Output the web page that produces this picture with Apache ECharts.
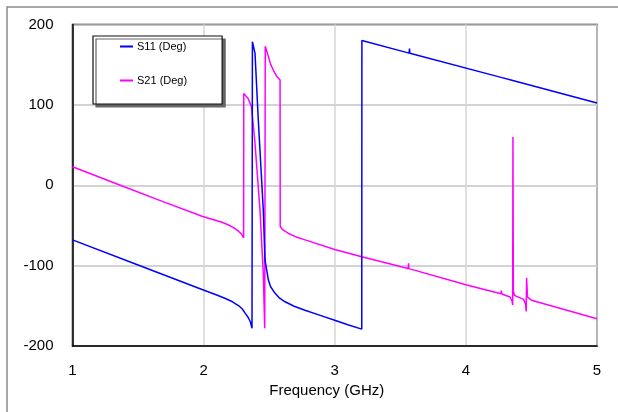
<!DOCTYPE html>
<html>
<head>
<meta charset="utf-8">
<script src="https://cdn.jsdelivr.net/npm/echarts@6/dist/echarts.min.js"></script>
<style>html,body{margin:0;padding:0;background:#fff}#c{width:618px;height:412px}</style>
</head>
<body>
<div id="c"></div>
<script>
var xTicks = [1, 2, 3, 4, 5];
var yTicks = [-200, -100, 0, 100, 200];
var seriesNames = ['S11 (Deg)', 'S21 (Deg)'];
var xAxisName = 'Frequency (GHz)';

var s11Freq = [1.0, 1.505, 1.988, 2.1, 2.166, 2.22, 2.268, 2.295, 2.318, 2.34, 2.356, 2.369, 2.372, 2.392, 2.417, 2.455, 2.468, 2.494, 2.51, 2.545, 2.58, 2.621, 2.69, 2.773, 2.9, 3.0, 3.1, 3.206, 3.207, 3.567, 3.570, 3.573, 4.268, 4.270, 4.272, 4.358, 4.360, 4.362, 5.0];
var s11Deg  = [-68, -99.5, -129.7, -136.5, -140.9, -145, -150, -154, -159.4, -164.5, -169.8, -178, 178.5, 164, 81, -31, -93, -118, -126, -134.5, -140.5, -145, -150.5, -155.5, -162.5, -168, -173.5, -179, 180, 164.4, 170, 164.2, 134.2, 136.5, 134.1, 130.4, 132.5, 130.3, 102.4];

var s21Freq = [1.0, 1.34, 1.7, 1.988, 2.07, 2.14, 2.19, 2.217, 2.24, 2.268, 2.29, 2.305, 2.306, 2.339, 2.365, 2.39, 2.43, 2.455, 2.466, 2.470, 2.494, 2.51, 2.532, 2.555, 2.583, 2.584, 2.6, 2.647, 2.7, 2.774, 3.0, 3.206, 3.56, 3.563, 3.566, 4.007, 4.268, 4.271, 4.274, 4.337, 4.352, 4.357, 4.359, 4.362, 4.37, 4.44, 4.455, 4.460, 4.463, 4.47, 4.5, 5.0];
var s21Deg  = [23, 1.5, -21, -38.5, -42.5, -46, -49.5, -51.7, -54, -57.5, -61, -65.5, 114, 108, 97.7, 56, -31, -110, -178, 173, 160, 151, 143, 136, 131, -51, -55, -60, -64, -68, -80, -89, -103.5, -97, -103.7, -124, -135, -131, -135.3, -139, -144, -149, 60, -131, -137, -142, -148, -157, -115, -139, -143, -166];

function zip(a, b) { return a.map(function (v, i) { return [v, b[i]]; }); }

var chart = echarts.init(document.getElementById('c'), null, { renderer: 'canvas' });
var font = 'Liberation Sans, Arial, sans-serif';
chart.setOption({
  animation: false,
  backgroundColor: '#fff',
  textStyle: { fontFamily: font },
  graphic: [{
    type: 'rect', shape: { x: 7, y: 7, width: 700, height: 500 },
    style: { fill: 'none', stroke: '#8a8a8a', lineWidth: 1.5 }, z: 0
  }],
  grid: { left: 72.5, right: 21, top: 24.5, bottom: 66, show: true, borderColor: '#222', borderWidth: 1.5, backgroundColor: 'transparent' },
  legend: {
    orient: 'vertical', left: 93, top: 36,
    padding: [5, 35, 18, 27],
    itemGap: 23, itemWidth: 13, itemHeight: 2, icon: 'rect',
    backgroundColor: '#fff', borderColor: '#111', borderWidth: 1.2,
    shadowColor: '#666', shadowOffsetX: 3, shadowOffsetY: 3, shadowBlur: 0,
    textStyle: { fontSize: 11, color: '#000', fontFamily: font, padding: [0, 0, 0, -1] },
    data: seriesNames
  },
  xAxis: {
    type: 'value', min: xTicks[0], max: xTicks[xTicks.length - 1], interval: 1,
    name: xAxisName, nameLocation: 'middle', nameGap: 33,
    nameTextStyle: { fontSize: 15, color: '#000', fontFamily: font, padding: [0, 16, 0, 0] },
    axisLine: { show: true, onZero: false, lineStyle: { color: '#000', width: 1.5 } },
    axisTick: { show: false },
    axisLabel: { fontSize: 15, color: '#000', margin: 17, fontFamily: font },
    splitLine: { show: true, lineStyle: { color: '#d6d6d6', width: 1.5 } }
  },
  yAxis: {
    type: 'value', min: yTicks[0], max: yTicks[yTicks.length - 1], interval: 100,
    axisLine: { show: true, onZero: false, lineStyle: { color: '#000', width: 1.5 } },
    axisTick: { show: false },
    axisLabel: { fontSize: 15, color: '#000', margin: 19, fontFamily: font },
    splitLine: { show: true, lineStyle: { color: '#c4c4c4', width: 1.5 } }
  },
  series: [
    { name: seriesNames[0], type: 'line', data: zip(s11Freq, s11Deg), showSymbol: false, symbol: 'none',
      lineStyle: { color: '#0000ff', width: 1.5 }, itemStyle: { color: '#0000ff' }, z: 3 },
    { name: seriesNames[1], type: 'line', data: zip(s21Freq, s21Deg), showSymbol: false, symbol: 'none',
      lineStyle: { color: '#ff00ff', width: 1.5 }, itemStyle: { color: '#ff00ff' }, z: 2 }
  ]
});
</script>
</body>
</html>
